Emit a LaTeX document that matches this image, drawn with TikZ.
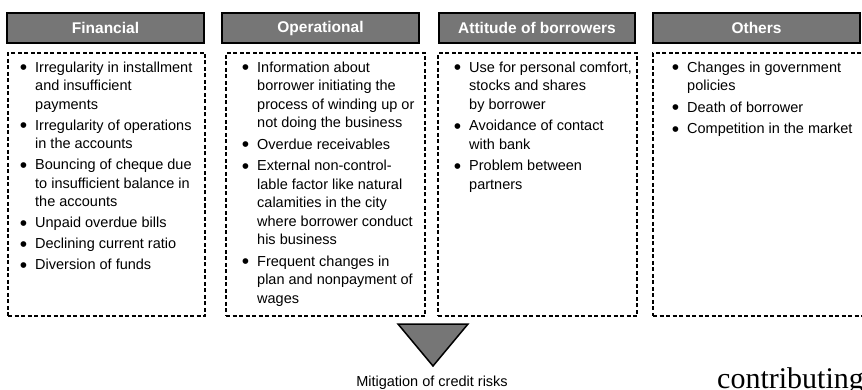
\documentclass[tikz,border=0pt]{standalone}
\usepackage{fontspec}
\usepackage{graphicx}
\setmainfont{Liberation Sans}
\newfontfamily\serifword{Liberation Serif}
\definecolor{headgray}{RGB}{118,118,118}
\newcommand{\riskitem}{\llap{\raisebox{-2.3pt}{\scalebox{1.45}{\textbullet}}\hspace{8pt}}}

\begin{document}
\begin{tikzpicture}
[x=1pt,y=-1pt,
  headdecorate/.style={draw=black,line width=2pt,fill=headgray,text=white,
    font=\bfseries\fontsize{15.5}{18}\selectfont,minimum height=30pt,inner sep=0pt},
  listdecorate/.style={draw=black,line width=2pt,dash pattern=on 4pt off 2.5pt,
    minimum height=263pt,inner sep=0pt},
  itemdecorate/.style={anchor=north west,inner sep=0pt,align=left,
    font=\fontsize{14.5}{18.5}\selectfont}]
\useasboundingbox (0,0) rectangle (862,390);
%% headings and dashed boxes
\foreach \nodename/\x/\w/\bx/\bw/\heading in {fin/105.5/197/106.5/197/Financial,
  ope/320.5/197/325.5/199/Operational, att/537/196/537.5/199/Attitude of borrowers,
  oth/756.5/207/759.5/213/Others} {
  \node (\nodename head) at (\x,28) [headdecorate,minimum width=\w pt] {\heading};
  \node (\nodename box) at (\bx,184.5) [listdecorate,minimum width=\bw pt] {};
}
%% listed factors
\node (finitems) at (35,61.5) [itemdecorate] {\riskitem Irregularity in installment\\
  and insufficient\\ payments\\[2.5pt]
  \riskitem Irregularity of operations\\ in the accounts\\[2.5pt]
  \riskitem Bouncing of cheque due\\ to insufficient balance in\\ the accounts\\[2.5pt]
  \riskitem Unpaid overdue bills\\[2.5pt]
  \riskitem Declining current ratio\\[2.5pt]
  \riskitem Diversion of funds};
\node (opeitems) at (257,61.5) [itemdecorate] {\riskitem Information about\\
  borrower initiating the\\ process of winding up or\\ not doing the business\\[3pt]
  \riskitem Overdue receivables\\[3pt]
  \riskitem External non-control-\\ lable factor like natural\\ calamities in the city\\
  where borrower conduct\\ his business\\[3pt]
  \riskitem Frequent changes in\\ plan and nonpayment of\\ wages};
\node (attitems) at (469,61.5) [itemdecorate] {\riskitem Use for personal comfort,\\
  stocks and shares\\ by borrower\\[3pt]
  \riskitem Avoidance of contact\\ with bank\\[3pt]
  \riskitem Problem between\\ partners};
\node (othitems) at (687,61.5) [itemdecorate] {\riskitem Changes in government\\
  policies\\[3pt]
  \riskitem Death of borrower\\[3pt]
  \riskitem Competition in the market};
%% triangle and caption
\coordinate (tripleft) at (398,324);
\coordinate (tripright) at (468,324);
\coordinate (tripapex) at (433,366);
\draw[line width=1.5pt,fill=headgray] (tripleft) -- (tripright) -- (tripapex) -- cycle;
\node (mitigation) at (432,386) [anchor=base,inner sep=0pt,
  font=\fontsize{14.5}{17}\selectfont] {Mitigation of credit risks};
\node (contrib) at (717,388) [anchor=base west,inner sep=0pt,
  font=\serifword\fontsize{30}{36}\selectfont] {contributing};
\end{tikzpicture}
\end{document}
